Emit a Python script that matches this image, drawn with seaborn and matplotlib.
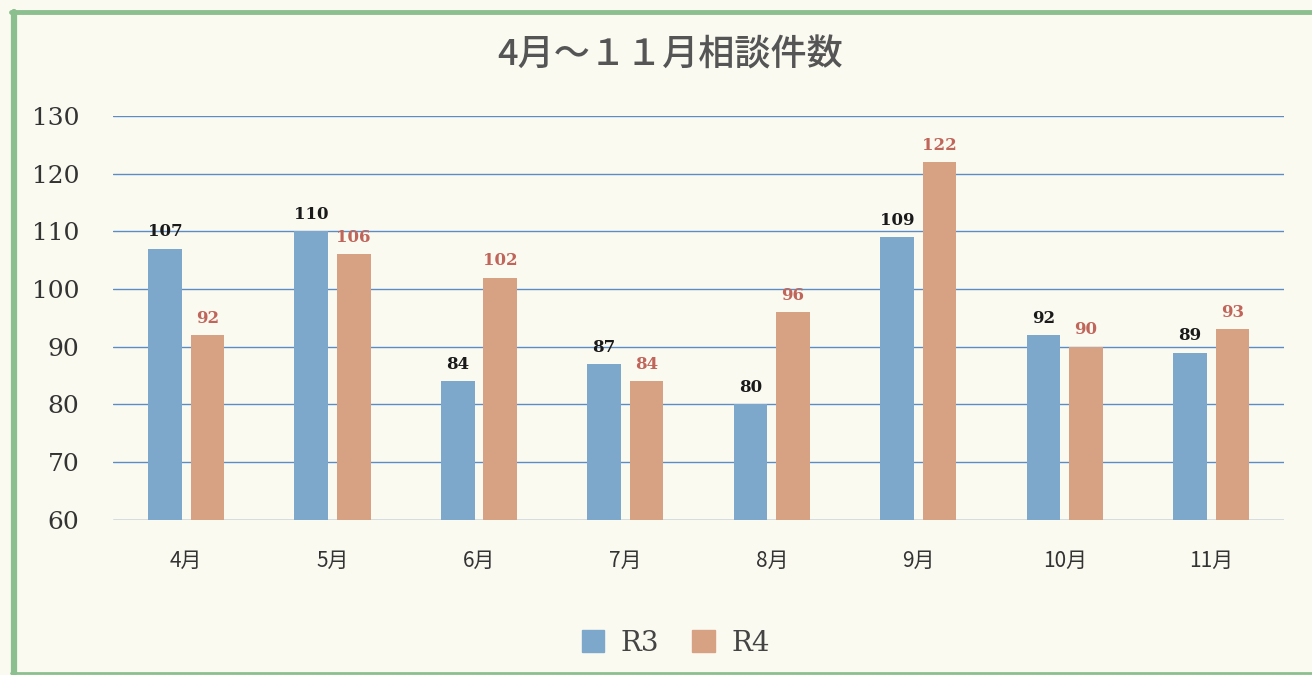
import pandas as pd
import seaborn as sns
import matplotlib.pyplot as plt
from matplotlib.patches import Rectangle
from matplotlib.lines import Line2D

# データ
months = ['4月', '5月', '6月', '7月', '8月', '9月', '10月', '11月']
r3 = [107, 110, 84, 87, 80, 109, 92, 89]
r4 = [92, 106, 102, 84, 96, 122, 90, 93]
series = ['R3', 'R4']
colors = ['#7da8cb', '#d6a283']
label_colors = ['#1a1a1a', '#c0655a']

df = pd.DataFrame({
    '月': months * 2,
    '件数': r3 + r4,
    '年度': ['R3'] * len(months) + ['R4'] * len(months),
})

sns.set_theme(style='white')
plt.rcParams['font.family'] = ['DejaVu Serif', 'Noto Sans CJK JP']
bg = '#fbfaf1'

fig = plt.figure(figsize=(13.12, 6.75), dpi=100, facecolor=bg)
ax = fig.add_axes([0.086, 0.230, 0.893, 0.598], facecolor=bg)

sns.barplot(data=df, x='月', y='件数', hue='年度', order=months, hue_order=series,
            palette=colors, width=0.58, gap=0.21, saturation=1, ax=ax, zorder=3,
            legend=False, linewidth=0, edgecolor='none')

ax.set_ylim(60, 130)
ax.set_xlim(-0.5, 7.5)
ax.set_yticks(range(60, 131, 10))
ax.yaxis.grid(True, color='#5b8cc4', linewidth=1.0, zorder=0)
ax.set_axisbelow(True)
for s in ax.spines.values():
    s.set_visible(False)
ax.axhline(60, color='#b9c3cc', linewidth=1.0, zorder=1)
ax.set_xlabel('')
ax.set_ylabel('')
ax.tick_params(axis='y', length=0, labelsize=18, labelcolor='#333333', pad=24)
ax.tick_params(axis='x', length=0, pad=22)
for t in ax.get_yticklabels():
    t.set_fontweight('medium')
for t in ax.get_xticklabels():
    t.set_fontfamily(['Noto Sans CJK JP', 'DejaVu Sans'])
    t.set_fontsize(15)
    t.set_color('#333333')

# データラベル
for container, c in zip(ax.containers, label_colors):
    ax.bar_label(container, fmt='%d', padding=6, fontsize=12, fontweight='bold', color=c)

# タイトル
fig.text(0.511, 0.918, '4月～１１月相談件数', ha='center', va='center', fontsize=26,
         style='italic', fontweight='medium', color='#555555',
         family=['Noto Sans CJK JP', 'DejaVu Sans'])

# 凡例
handles = [Rectangle((0, 0), 1, 1, color=c) for c in colors]
fig.legend(handles, series, loc='center', bbox_to_anchor=(0.515, 0.047), ncol=2,
           frameon=False, fontsize=20, handlelength=0.8, handleheight=0.8,
           columnspacing=1.2, handletextpad=0.6, labelcolor='#444444')

# 枠線（左・上・下）
green = '#8cbf8f'
fig.lines.append(Line2D([0.0103, 0.0103], [0.003, 0.982], transform=fig.transFigure,
                        color=green, linewidth=4.5))
fig.lines.append(Line2D([0.0085, 1.0], [0.982, 0.982], transform=fig.transFigure,
                        color=green, linewidth=3.5))
fig.lines.append(Line2D([0.0085, 1.0], [0.003, 0.003], transform=fig.transFigure,
                        color=green, linewidth=2))

fig.savefig('out.png', dpi=100, facecolor=bg)
